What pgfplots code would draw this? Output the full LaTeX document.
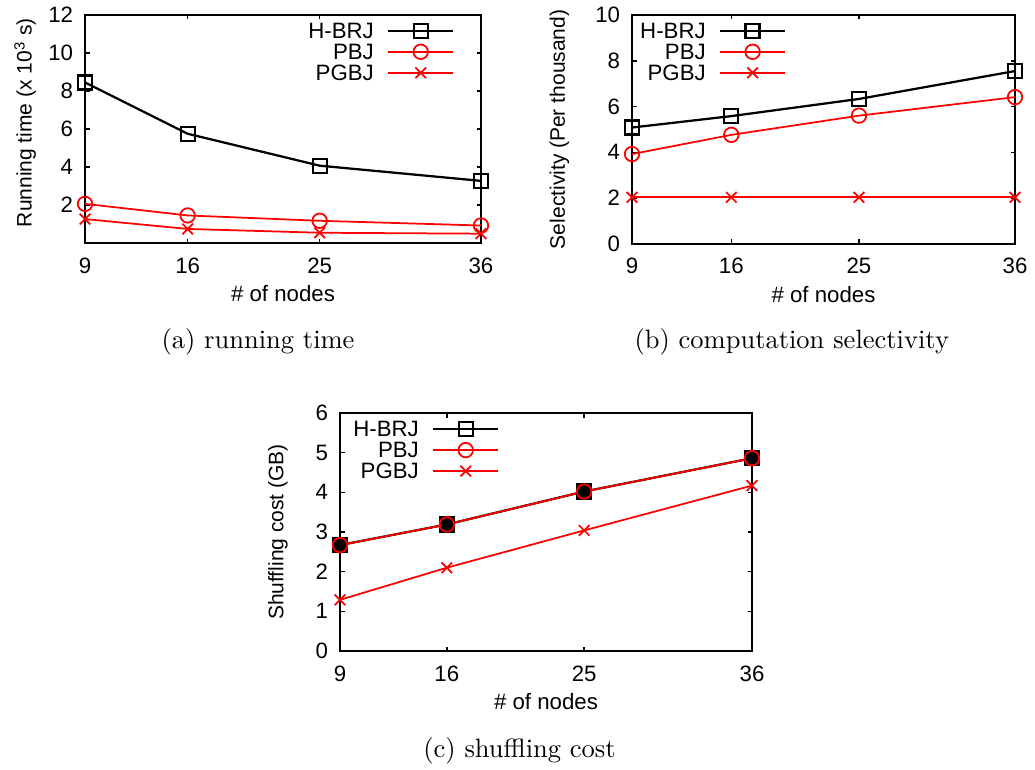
\documentclass[border=0pt]{standalone}
\usepackage{fontspec}
\usepackage{pgfplots}
\pgfplotsset{compat=1.18}
\newfontfamily\hfont{Liberation Sans}
\newfontfamily\capfont{lmroman10-regular.otf}
\newcommand{\tfont}{\hfont\fontsize{8.9}{10.6}\selectfont}
\newcommand{\yfont}{\hfont\fontsize{8.4}{10}\selectfont}
\newcommand{\cfont}{\capfont\fontsize{10.6}{12.7}\selectfont}
\pgfplotsset{
  gp/.style={
    scale only axis,
    anchor=north west,
    axis line style={line width=0.6pt},
    tick style={line width=0.6pt, black},
    tick align=inside,
    major tick length=1.8pt,
    xtick pos=both, ytick pos=both,
    xmin=9, xmax=36,
    xtick={9,16,25,36},
    /pgf/number format/assume math mode=true,
    tick label style={font=\tfont, inner sep=0pt},
    xticklabel style={anchor=north},
    yticklabel style={anchor=east},
    xticklabel shift=5.6pt,
    yticklabel shift=4.6pt,
    xlabel={\# of nodes},
    every axis x label/.style={at={(axis description cs:0.5,0)}, anchor=north, yshift=-16.8pt, inner sep=0pt, font=\tfont},
    legend cell align=right,
    legend plot pos=right,
    legend style={draw=none, fill=none, inner sep=0pt, anchor=north east,
      font=\tfont, row sep=2.2pt, column sep=5.3pt,
      nodes={inner sep=0pt, text height=6.2pt, text depth=0pt}},
    legend image code/.code={\draw[mark repeat=2,mark phase=2,##1] plot coordinates {(0pt,0pt) (13pt,0pt) (26pt,0pt)};},
  },
  hbrj/.style={black, line width=0.9pt, mark=square, mark size=2.8pt, mark options={solid}},
  pbj/.style={red, line width=0.7pt, mark=o, mark size=2.9pt, mark options={solid}},
  pgbj/.style={red, line width=0.7pt, mark=x, mark size=3pt, mark options={solid}},
}
\begin{document}
\begin{tikzpicture}
\path[use as bounding box] (0pt,0pt) rectangle (414pt,-307.6pt);
% (a) running time
\begin{axis}[gp, at={(34pt,-6pt)}, width=158.4pt, height=91.2pt,
  ymin=0, ymax=12, ytick={2,4,6,8,10,12},
  ylabel={Running time (x 10\textsuperscript{3} s)},
  every axis y label/.style={at={(axis description cs:-0.1346,0.528)}, rotate=90, anchor=base, font=\yfont, inner sep=0pt},
  legend style={at={(axis description cs:0.934,0.967)}}]
\addplot[hbrj] coordinates {(9,8.45) (16,5.75) (25,4.07) (36,3.27)};
\addplot[pbj] coordinates {(9,2.06) (16,1.45) (25,1.17) (36,0.92)};
\addplot[pgbj] coordinates {(9,1.26) (16,0.74) (25,0.54) (36,0.49)};
\legend{H-BRJ,PBJ,PGBJ}
\end{axis}
% (b) computation selectivity
\begin{axis}[gp, at={(252.8pt,-6pt)}, width=153.2pt, height=91.5pt,
  ymin=0, ymax=10, ytick={0,2,4,6,8,10},
  ylabel={Selectivity (Per thousand)},
  every axis y label/.style={at={(axis description cs:-0.175,0.5)}, rotate=90, anchor=base, font=\yfont, inner sep=0pt},
  legend style={at={(axis description cs:0.404,0.967)}}]
\addplot[hbrj] coordinates {(9,5.08) (16,5.58) (25,6.33) (36,7.55)};
\addplot[pbj] coordinates {(9,3.92) (16,4.76) (25,5.6) (36,6.41)};
\addplot[pgbj] coordinates {(9,2.03) (16,2.03) (25,2.03) (36,2.03)};
\legend{H-BRJ,PBJ,PGBJ}
\end{axis}
% (c) shuffling cost
\begin{axis}[gp, at={(136pt,-165.2pt)}, width=164.8pt, height=95.2pt,
  ymin=0, ymax=6, ytick={0,1,2,3,4,5,6},
  ylabel={Shuffling cost (GB)},
  every axis y label/.style={at={(axis description cs:-0.1376,0.5)}, rotate=90, anchor=base, font=\yfont, inner sep=0pt},
  legend style={at={(axis description cs:0.388,0.967)}}]
\addlegendimage{hbrj}
\addlegendimage{pbj}
\addlegendimage{pgbj}
\addplot[hbrj, mark=square*, mark options={solid, fill=black, draw=black}, forget plot] coordinates {(9,2.67) (16,3.19) (25,4.02) (36,4.86)};
\addplot[pbj, forget plot] coordinates {(9,2.67) (16,3.19) (25,4.02) (36,4.86)};
\addplot[pgbj, forget plot] coordinates {(9,1.29) (16,2.1) (25,3.04) (36,4.17)};
\legend{H-BRJ,PBJ,PGBJ}
\end{axis}
\node[anchor=base, inner sep=0pt, font=\cfont] at (103.2pt,-139.2pt) {(a) running time};
\node[anchor=base, inner sep=0pt, font=\cfont] at (316.7pt,-139.2pt) {(b) computation selectivity};
\node[anchor=base, inner sep=0pt, font=\cfont] at (207.8pt,-303.0pt) {(c) shuffling cost};
\end{tikzpicture}
\end{document}
